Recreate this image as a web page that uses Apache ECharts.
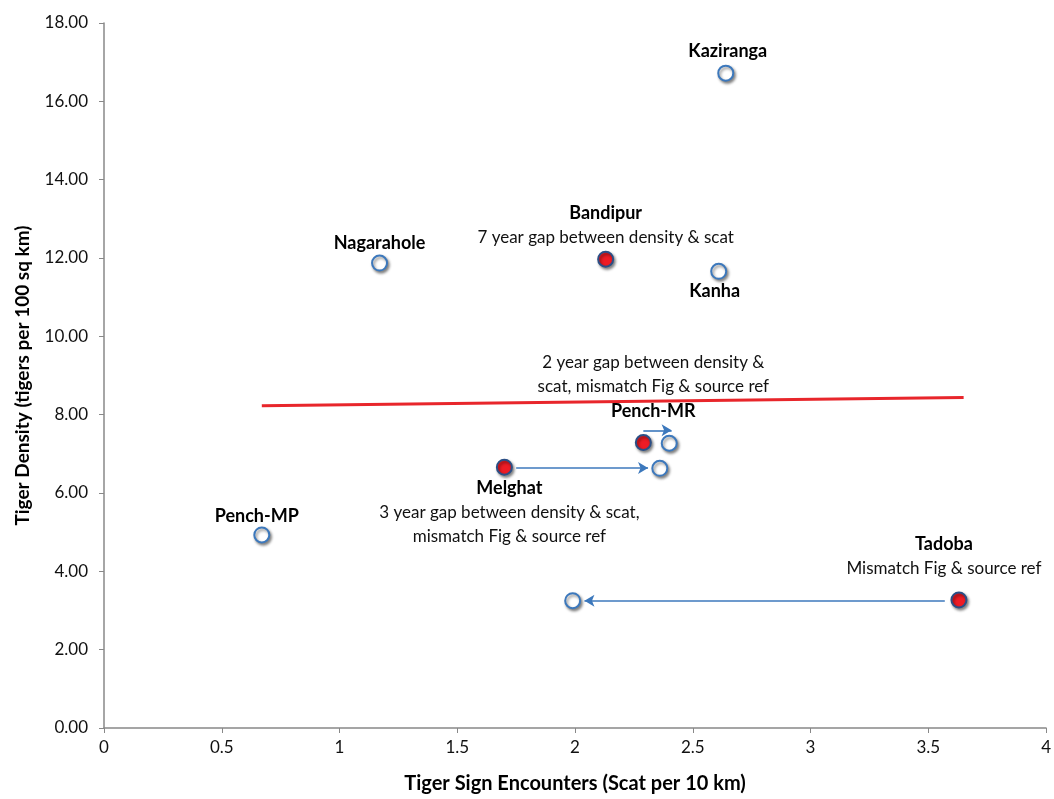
<!DOCTYPE html>
<html>
<head>
<meta charset="utf-8">
<script src="https://cdn.jsdelivr.net/npm/echarts@6/dist/echarts.min.js"></script>
<style>
html,body{margin:0;padding:0;background:#fff;}
#container{width:1054px;height:799px;}
</style>
</head>
<body>
<div id="container"></div>
<script>
// 密度数据 (white = scat survey year, red = density year)
const whiteNames = ['Kaziranga', 'Nagarahole', 'Kanha', 'Pench-MR', 'Melghat', 'Pench-MP', 'Tadoba'];
const whiteX = [2.64, 1.17, 2.61, 2.40, 2.36, 0.67, 1.99];
const whiteY = [16.72, 11.87, 11.66, 7.27, 6.63, 4.93, 3.25];

const redNames = ['Bandipur', 'Pench-MR', 'Melghat', 'Tadoba'];
const redX = [2.13, 2.29, 1.70, 3.63];
const redY = [11.97, 7.29, 6.66, 3.27];

// trend line
const trendX = [0.67, 3.65];
const trendY = [8.23, 8.44];

// arrows [x, y] start / end
const arrowFrom = [[2.29, 7.60], [1.75, 6.64], [3.57, 3.25]];
const arrowTo = [[2.41, 7.60], [2.31, 6.64], [2.04, 3.25]];

const notes = {
	'Bandipur': ['7 year gap between density & scat'],
	'Pench-MR': ['2 year gap between density &', 'scat, mismatch Fig & source ref'],
	'Melghat': ['3 year gap between density & scat,', 'mismatch Fig & source ref'],
	'Tadoba': ['Mismatch Fig & source ref']
};

const font = 'Lato, "Open Sans", sans-serif';
const blue = '#3C78BC';

// label placement for each name
const labelPos = {
	'Kaziranga': {position: 'top', distance: 3, offset: [2, 0]},
	'Nagarahole': {position: 'top', distance: 1, offset: [0, 0]},
	'Kanha': {position: 'bottom', distance: 1, offset: [-4, 0]},
	'Pench-MP': {position: 'top', distance: 0, offset: [-5, 0]},
	'Bandipur': {position: 'top', distance: 1, offset: [0, 0]},
	'Pench-MR': {position: 'top', distance: 11, offset: [10, 0]},
	'Melghat': {position: 'bottom', distance: 1, offset: [5, 0]},
	'Tadoba': {position: 'top', distance: 11, offset: [-15, 0]}
};

function buildLabel(name){
	let p = labelPos[name];
	let note = notes[name] || [];
	let text;
	if(name == 'Pench-MR'){
		text = note.map(function(s){ return '{n|' + s + '}'; }).join('\n') + '\n{b|' + name + '}';
	}else{
		text = ['{b|' + name + '}'].concat(note.map(function(s){ return '{n|' + s + '}'; })).join('\n');
	}
	return {
		show: true,
		position: p.position,
		distance: p.distance,
		offset: p.offset,
		formatter: text,
		align: 'center',
		rich: {
			b: {fontFamily: font, fontWeight: 'bold', fontSize: 18, color: '#000', lineHeight: note.length ? 24 : 20},
			n: {fontFamily: font, fontSize: 17, color: '#111', lineHeight: 24}
		}
	};
}

let labelledWhite = ['Kaziranga', 'Nagarahole', 'Kanha', 'Pench-MP'];
let whiteData = [];
for(var i = 0; i < whiteNames.length; i++){
	let item = {name: whiteNames[i], value: [whiteX[i], whiteY[i]]};
	if(labelledWhite.indexOf(whiteNames[i]) > -1){
		item.label = buildLabel(whiteNames[i]);
	}
	whiteData.push(item);
}
let redData = [];
for(var j = 0; j < redNames.length; j++){
	redData.push({name: redNames[j], value: [redX[j], redY[j]], label: buildLabel(redNames[j])});
}
let arrowData = [];
for(var k = 0; k < arrowFrom.length; k++){
	arrowData.push([{coord: arrowFrom[k]}, {coord: arrowTo[k]}]);
}

var dom = document.getElementById('container');
var myChart = echarts.init(dom);
var option = {
	backgroundColor: '#fff',
	animation: false,
	grid: {left: 104, right: 5, top: 23, bottom: 65},
	xAxis: {
		type: 'value',
		min: 0,
		max: 4,
		interval: 0.5,
		name: 'Tiger Sign Encounters (Scat per 10 km)',
		nameLocation: 'middle',
		nameGap: 46,
		nameTextStyle: {fontFamily: font, fontWeight: 'bold', fontSize: 20, color: '#000'},
		axisLine: {lineStyle: {color: '#888', width: 1.5}},
		axisTick: {show: true, length: 5, lineStyle: {color: '#888'}},
		axisLabel: {fontFamily: font, fontSize: 17, color: '#111', margin: 11},
		splitLine: {show: false}
	},
	yAxis: {
		type: 'value',
		min: 0,
		max: 18,
		interval: 2,
		name: 'Tiger Density (tigers per 100 sq km)',
		nameLocation: 'middle',
		nameGap: 72,
		nameTextStyle: {fontFamily: font, fontWeight: 'bold', fontSize: 19, color: '#000'},
		axisLine: {show: true, lineStyle: {color: '#888', width: 1.5}},
		axisTick: {show: true, length: 5, lineStyle: {color: '#888'}},
		axisLabel: {
			fontFamily: font, fontSize: 17, color: '#111', margin: 16,
			formatter: function(v){ return v.toFixed(2); }
		},
		splitLine: {show: false}
	},
	series: [
		{
			name: 'trend',
			type: 'line',
			data: [[trendX[0], trendY[0]], [trendX[1], trendY[1]]],
			showSymbol: false,
			symbol: 'none',
			lineStyle: {color: '#E8262B', width: 3},
			z: 2,
			markLine: {
				silent: true,
				symbol: ['none', 'arrow'],
				symbolSize: [9, 10],
				label: {show: false},
				lineStyle: {color: blue, width: 1.6, type: 'solid'},
				data: arrowData
			}
		},
		{
			name: 'scat',
			type: 'scatter',
			data: whiteData,
			symbol: 'circle',
			symbolSize: 15,
			itemStyle: {
				opacity: 1,
				color: '#fff',
				borderColor: blue,
				borderWidth: 2,
				shadowBlur: 3,
				shadowOffsetX: 1.5,
				shadowOffsetY: 2,
				shadowColor: 'rgba(0,0,0,0.45)'
			},
			z: 3
		},
		{
			name: 'density',
			type: 'scatter',
			data: redData,
			symbol: 'circle',
			symbolSize: 15,
			itemStyle: {
				opacity: 1,
				color: '#EE1C25',
				borderColor: '#2B4F86',
				borderWidth: 2,
				shadowBlur: 3,
				shadowOffsetX: 1.5,
				shadowOffsetY: 2,
				shadowColor: 'rgba(0,0,0,0.45)'
			},
			z: 4
		}
	]
};
if (option && typeof option === "object") {
	myChart.setOption(option, true);
}
</script>
</body>
</html>
